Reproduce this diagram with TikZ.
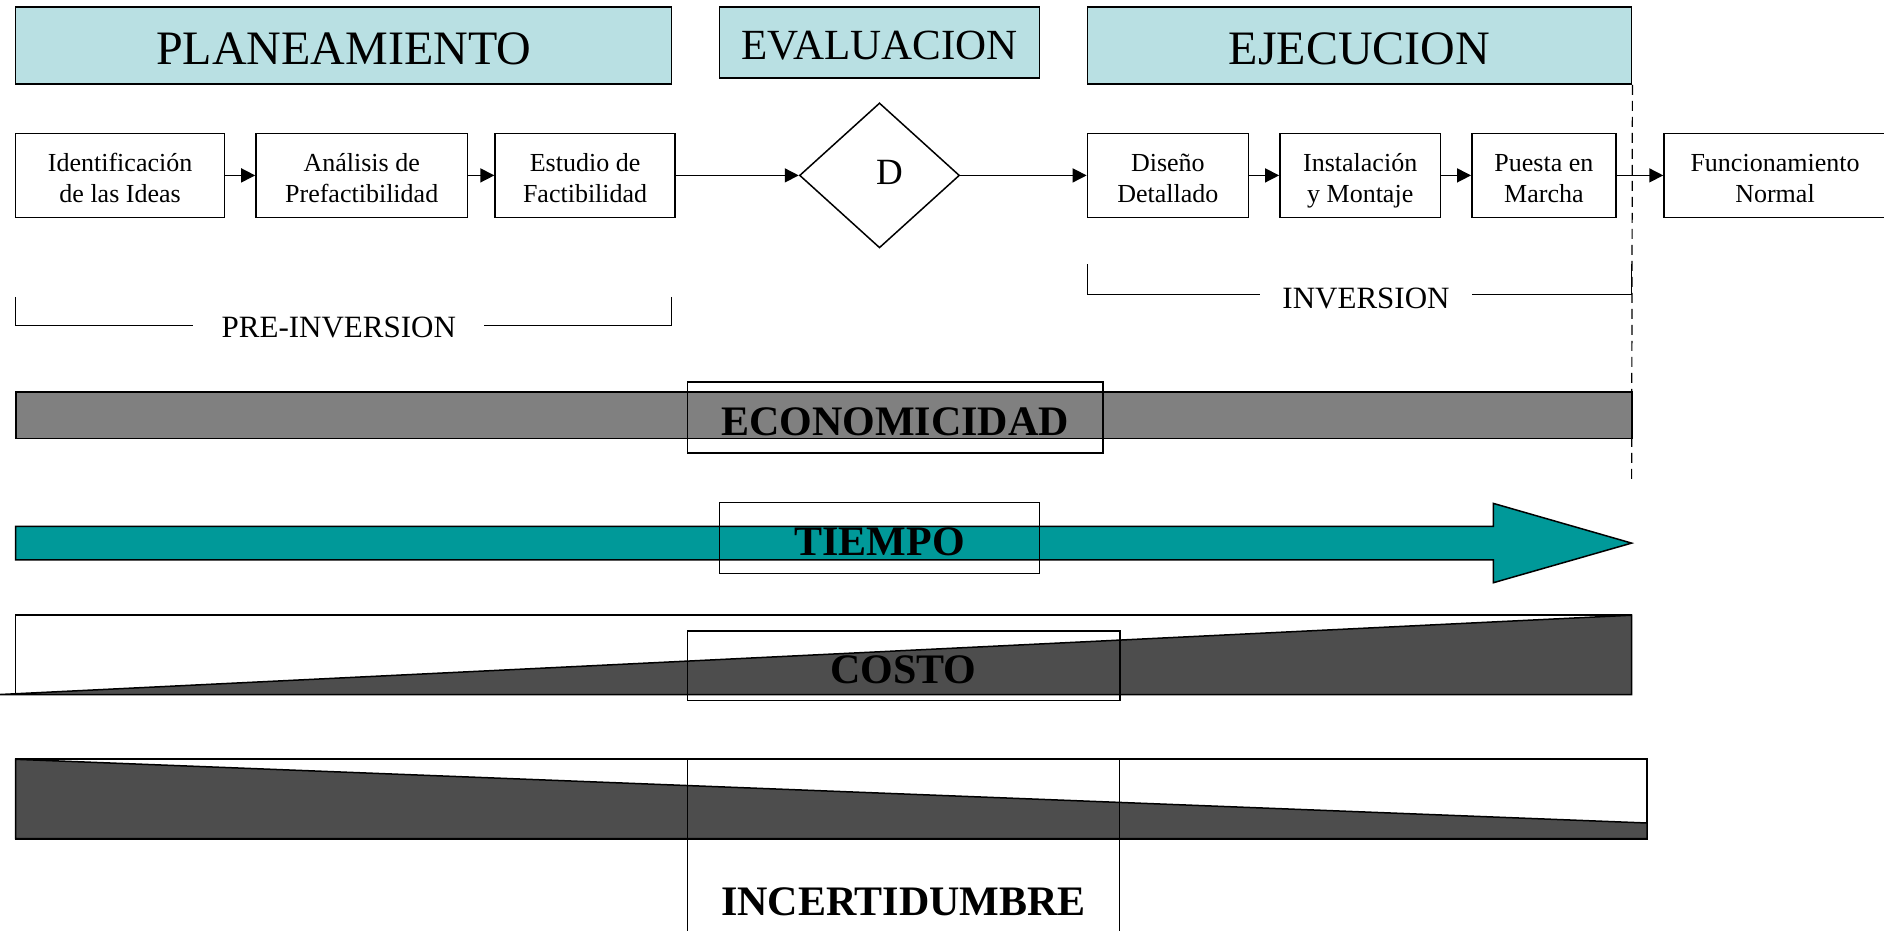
\documentclass[tikz,border=0pt]{standalone}
\usepackage{fontspec}
\setmainfont{Liberation Serif}
\usetikzlibrary{shapes.geometric,arrows.meta}

\definecolor{cabecera}{RGB}{185,224,227}
\definecolor{verdeazul}{RGB}{0,153,153}
\definecolor{grismedio}{RGB}{128,128,128}
\definecolor{grisoscuro}{RGB}{77,77,77}

\tikzset{
  fase/.style={draw, fill=cabecera, line width=1.5pt, inner sep=0pt, text height=36.6pt, text depth=0pt,
    font=\fontsize{48}{56}\selectfont},
  etapa/.style={draw, line width=1.5pt, align=center, minimum height=84pt, inner sep=0pt,
    text height=53.8pt, text depth=0pt, font=\fontsize{26}{31}\selectfont},
  flecha/.style={-{Triangle[length=14pt,width=14pt]}, line width=1.5pt},
  rotulo/.style={draw, line width=1.5pt, inner sep=0pt, text height=35pt, text depth=0pt,
    font=\fontsize{42}{50}\selectfont\bfseries},
  tramo/.style={font=\fontsize{31}{37}\selectfont, inner xsep=28pt},
}

\begin{document}
\begin{tikzpicture}[x=1pt,y=-1pt]
      \useasboundingbox (0,0) rectangle (1884,930);
      % fases
      \node[fase, minimum width=656pt, minimum height=77pt] (plan) at (343.6,45.7) {PLANEAMIENTO};
      \node[fase, minimum width=319.6pt, minimum height=71pt, text height=33.2pt,
        font=\fontsize{43}{51}\selectfont] (eval) at (879.5,42.6) {EVALUACION};
      \node[fase, minimum width=544.3pt, minimum height=77pt] (ejec) at (1359.5,45.7) {EJECUCION};
      % etapas del proyecto
      \node[etapa, minimum width=209pt] (ideas) at (120.1,175.4) {Identificación\\de las Ideas};
      \node[etapa, minimum width=211.5pt] (prefact) at (361.7,175.4) {Análisis de\\Prefactibilidad};
      \node[etapa, minimum width=180pt] (fact) at (585.1,175.4) {Estudio de\\Factibilidad};
      \node[draw, diamond, line width=1.5pt, minimum width=160pt, minimum height=145pt, inner sep=0pt,
        label={[font=\fontsize{37}{44}\selectfont, xshift=10pt, yshift=3pt]center:D}] (dec) at (879.5,175.4) {};
      \node[etapa, minimum width=161pt] (diseno) at (1167.9,175.4) {Diseño\\Detallado};
      \node[etapa, minimum width=160.7pt] (instal) at (1360.2,175.4) {Instalación\\y Montaje};
      \node[etapa, minimum width=144.2pt] (puesta) at (1543.9,175.4) {Puesta en\\Marcha};
      \node[etapa, minimum width=222pt] (func) at (1775,175.4) {Funcionamiento\\Normal};
      \draw[flecha] (ideas) -- (prefact);
      \draw[flecha] (prefact) -- (fact);
      \draw[flecha] (fact) -- (dec);
      \draw[flecha] (dec) -- (diseno);
      \draw[flecha] (diseno) -- (instal);
      \draw[flecha] (instal) -- (puesta);
      \draw[flecha] (puesta) -- (func);
      % corte
      \coordinate (corte) at (1631.6,480.6);
      \draw[line width=1.2pt, dash pattern=on 10pt off 6pt] (ejec.south east) -- (corte);
      % tramos
      \coordinate (pre a) at (15.6,296.8);
      \coordinate (pre b) at (671.6,296.8);
      \node[tramo, text height=22.9pt, text depth=0pt] (preinv) at (338.8,325.6) {PRE-INVERSION};
      \draw[line width=1.5pt] (pre a) |- (preinv.west);
      \draw[line width=1.5pt] (pre b) |- (preinv.east);
      \coordinate (inv a) at (1087.4,264);
      \coordinate (inv b) at (1631.6,264);
      \node[tramo, inner xsep=22pt, text height=27.7pt, text depth=0pt] (inv) at (1366,294.4) {INVERSION};
      \draw[line width=1.5pt] (inv a) |- (inv.west);
      \draw[line width=1.5pt] (inv b) |- (inv.east);
      % barras
      \filldraw[fill=grismedio, line width=1.8pt] (15.6,391.7) rectangle (1631.6,438.5);
      \filldraw[fill=verdeazul, line width=1.5pt] (15.6,526.3) -- (1493.4,526.3) -- (1493.4,503.4) -- (1631.6,543.1)
        -- (1493.4,582.7) -- (1493.4,559.9) -- (15.6,559.9) -- cycle;
      \draw[line width=1.5pt] (15.6,615.2) rectangle (1631.6,694.5);
      \filldraw[fill=grisoscuro, line width=1.5pt] (0,694.5) -- (1631.6,615.2) -- (1631.6,694.5) -- cycle;
      \draw[line width=1.8pt] (15.6,759.3) rectangle (1647.2,838.6);
      \filldraw[fill=grisoscuro, line width=1.5pt] (15.6,759.3) -- (1647.2,823) -- (1647.2,838.6) -- (15.6,838.6) -- cycle;
      \draw[line width=1pt] (687.3,940) -- (687.3,759.3) -- (1119.8,759.3) -- (1119.8,940);
      % rotulos
      \node[rotulo, minimum width=415.6pt, minimum height=71pt] (econ) at (895.1,417.5) {ECONOMICIDAD};
      \node[rotulo, minimum width=319.6pt, minimum height=71pt, text height=34.6pt] (tiempo) at (879.5,538) {TIEMPO};
      \node[rotulo, minimum width=432.5pt, minimum height=69.7pt] (costo) at (903.5,665.7) {COSTO};
      \node[rotulo, draw=none] (incert) at (903.5,897.6) {INCERTIDUMBRE};
\end{tikzpicture}
\end{document}
